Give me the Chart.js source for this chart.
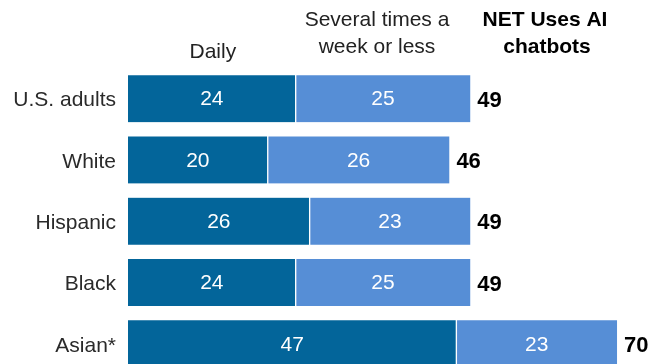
<!DOCTYPE html>
<html>
<head>
<meta charset="utf-8">
<script src="https://cdn.jsdelivr.net/npm/chart.js@4"></script>
<style>
  html, body { margin: 0; padding: 0; background: #fff; overflow: hidden; }
  #wrap { width: 652px; height: 364px; overflow: hidden; position: relative; }
</style>
</head>
<body>
<div id="wrap">
  <canvas id="chart" width="652" height="399"></canvas>
</div>
<script>
// данные с картинки
const groups = ["U.S. adults", "White", "Hispanic", "Black", "Asian*"];
const daily = [24, 20, 26, 24, 47];
const weekly = [25, 26, 23, 25, 23];
const netTotals = [49, 46, 49, 49, 70];

const seriesNames = ["Daily", "Several times a week or less"];
const headerDaily = ["Daily"];
const headerWeekly = ["Several times a", "week or less"];
const headerNet = ["NET Uses AI", "chatbots"];

const FONT = "'Liberation Sans', Arial, sans-serif";
const darkBlue = "#03659A";
const lightBlue = "#568ED6";

// подписи внутри сегментов, итоги справа и шапка
const labelsPlugin = {
  id: "labelsPlugin",
  afterDatasetsDraw(chart) {
    const ctx = chart.ctx;
    ctx.save();

    // числа внутри сегментов
    ctx.fillStyle = "#fff";
    ctx.font = "21px " + FONT;
    ctx.textAlign = "center";
    ctx.textBaseline = "middle";
    chart.data.datasets.forEach((ds, di) => {
      const meta = chart.getDatasetMeta(di);
      meta.data.forEach((bar, i) => {
        const cx = (bar.base + bar.x) / 2;
        ctx.fillText(String(ds.data[i]), cx, bar.y + 1);
      });
    });

    // итог справа от полосы
    const last = chart.getDatasetMeta(chart.data.datasets.length - 1);
    ctx.fillStyle = "#000";
    ctx.font = "bold 22px " + FONT;
    ctx.textAlign = "left";
    last.data.forEach((bar, i) => {
      ctx.fillText(String(netTotals[i]), bar.x + 7, bar.y + 2);
    });

    // шапка колонок
    const first0 = chart.getDatasetMeta(0).data[0];
    const first1 = chart.getDatasetMeta(1).data[0];
    ctx.textBaseline = "alphabetic";
    ctx.textAlign = "center";
    ctx.fillStyle = "#222";
    ctx.font = "21px " + FONT;
    ctx.fillText(headerDaily[0], (first0.base + first0.x) / 2 + 1, 58);
    const wx = (first1.base + first1.x) / 2 - 6;
    ctx.fillText(headerWeekly[0], wx, 26);
    ctx.fillText(headerWeekly[1], wx, 53);

    ctx.fillStyle = "#000";
    ctx.font = "bold 21px " + FONT;
    ctx.fillText(headerNet[0], 545, 26);
    ctx.fillText(headerNet[1], 547, 53);

    ctx.restore();
  }
};

const chart = new Chart(document.getElementById("chart").getContext("2d"), {
  type: "bar",
  data: {
    labels: groups,
    datasets: [
      {
        label: seriesNames[0],
        data: daily,
        backgroundColor: darkBlue,
        borderColor: "#fff",
        borderWidth: { top: 0, bottom: 0, left: 0, right: 1 },
        borderSkipped: false,
        barThickness: 47
      },
      {
        label: seriesNames[1],
        data: weekly,
        backgroundColor: lightBlue,
        borderColor: "#fff",
        borderWidth: { top: 0, bottom: 0, left: 1, right: 0 },
        borderSkipped: false,
        barThickness: 47
      }
    ]
  },
  options: {
    indexAxis: "y",
    responsive: false,
    animation: false,
    devicePixelRatio: 1,
    layout: { padding: { top: 68, right: 0, bottom: 0, left: 0 } },
    plugins: {
      legend: { display: false },
      tooltip: { enabled: false }
    },
    scales: {
      x: {
        stacked: true,
        display: false,
        min: 0,
        max: 75
      },
      y: {
        stacked: true,
        grid: { display: false, drawTicks: false },
        border: { display: false },
        ticks: {
          color: "#2a2a2a",
          padding: 12,
          labelOffset: 2,
          font: { family: FONT, size: 21 }
        },
        afterFit(scale) {
          scale.width = 128;
        }
      }
    }
  },
  plugins: [labelsPlugin]
});
</script>
</body>
</html>
